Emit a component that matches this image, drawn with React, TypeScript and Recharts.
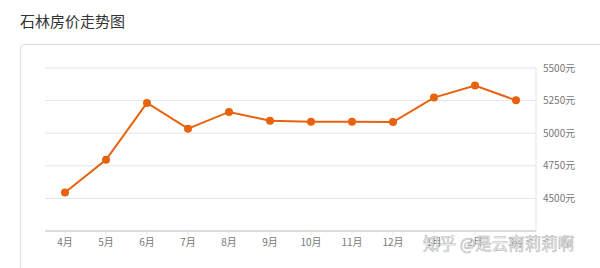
import { CartesianGrid, Line, LineChart, XAxis, YAxis } from "recharts";

const months = ["4月", "5月", "6月", "7月", "8月", "9月", "10月", "11月", "12月", "1月", "2月", "3月"];
const prices = [4545, 4796, 5232, 5035, 5163, 5096, 5088, 5088, 5086, 5273, 5365, 5252];
const priceTicks = [4500, 4750, 5000, 5250, 5500];

const FONT = '"Microsoft YaHei", "Noto Sans CJK SC", sans-serif';

export default function App() {
  const data = months.map((m, i) => ({ month: m, price: prices[i] }));

  return (
    <div
      style={{
        position: "absolute",
        left: 0,
        top: 0,
        width: 600,
        height: 268,
        overflow: "hidden",
        background: "#fff",
        fontFamily: FONT,
      }}
    >
      <div style={{ position: "absolute", left: 20, top: 10, fontSize: 15, color: "#333", lineHeight: "22px" }}>
        石林房价走势图
      </div>
      <div
        style={{
          position: "absolute",
          left: 20,
          top: 44,
          width: 620,
          height: 260,
          border: "1px solid #dedede",
          borderRadius: 4,
          boxSizing: "border-box",
        }}
      />
      <div style={{ position: "absolute", left: 0, top: 0 }}>
        <LineChart width={600} height={268} data={data} margin={{ top: 68, right: 0, bottom: 0, left: 45 }}>
          <CartesianGrid vertical={false} stroke="#e6e6e6" />
          <XAxis
            dataKey="month"
            height={37}
            padding={{ left: 20, right: 20 }}
            axisLine={{ stroke: "#dcdcdc", strokeWidth: 2 }}
            tickLine={{ stroke: "#e6e6e6" }}
            tickSize={4}
            tickMargin={4}
            tick={{ fill: "#777", fontSize: 10, fontFamily: FONT }}
            interval={0}
          />
          <YAxis
            orientation="right"
            width={64}
            domain={[4250, 5500]}
            ticks={priceTicks}
            axisLine={{ stroke: "#e3e3e3" }}
            tickLine={false}
            tickSize={2}
            tickMargin={5}
            tick={{ fill: "#777", fontSize: 10, fontFamily: FONT, textAnchor: "start" }}
            tickFormatter={(v: number) => `${v}元`}
          />
          <Line
            type="linear"
            dataKey="price"
            stroke="#e8620e"
            strokeWidth={2}
            dot={{ r: 4, fill: "#e8620e", stroke: "#e8620e", strokeWidth: 0 }}
            isAnimationActive={false}
          />
        </LineChart>
      </div>
      <div
        style={{
          position: "absolute",
          left: 423,
          top: 232,
          fontSize: 16.5,
          color: "#fff",
          WebkitTextStroke: "0.6px #b5b5b5",
          whiteSpace: "nowrap",
          lineHeight: "22px",
        }}
      >
        知乎 @是云南莉莉啊
      </div>
    </div>
  );
}
